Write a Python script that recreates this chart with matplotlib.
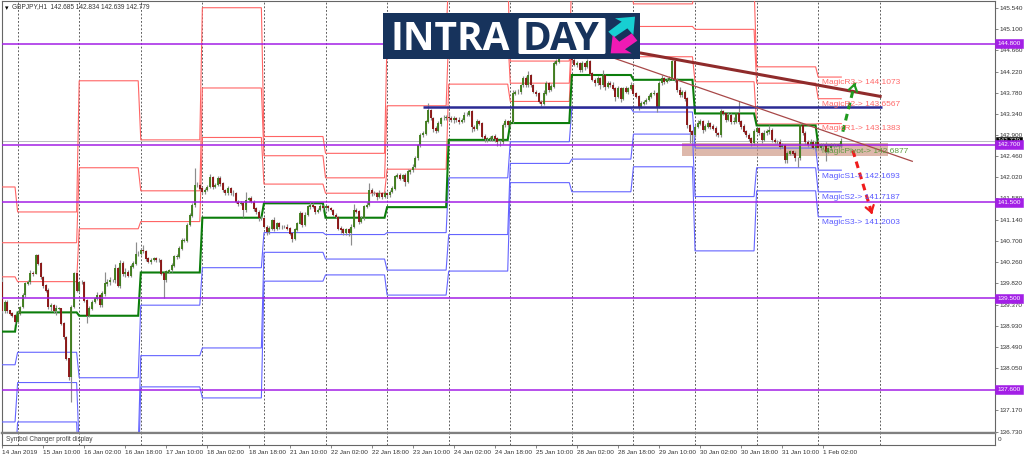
# -*- coding: utf-8 -*-
"""GBPJPY H1 chart with magic pivot levels, rebuilt with matplotlib."""

import numpy as np
import matplotlib
matplotlib.use('Agg')
import matplotlib.pyplot as plt
from matplotlib.patches import Rectangle, Polygon, FancyBboxPatch

plt.rcParams['font.family'] = ['Liberation Sans', 'DejaVu Sans']

# ============ Data ============
first_open = 139.84
closes = [
    139.25, 139.43, 139.25, 139.19, 139.15, 139.01, 139.19, 139.32, 139.57, 139.81,
    139.84, 140.03, 140.02, 140.40, 140.23, 139.95, 139.77, 139.67, 139.32, 139.36,
    139.25, 139.29, 139.29, 138.98, 138.70, 138.25, 137.87, 139.32, 140.02, 139.67,
    139.84, 139.84, 139.46, 139.15, 139.29, 139.43, 139.50, 139.57, 139.36, 139.60,
    139.81, 139.84, 139.88, 139.88, 140.12, 139.77, 140.23, 140.02, 140.05, 139.98,
    140.16, 140.23, 140.43, 140.43, 140.50, 140.49, 140.33, 140.26, 140.30, 140.33,
    140.30, 140.30, 140.02, 139.88, 140.06, 140.09, 140.19, 140.37, 140.37, 140.54,
    140.71, 140.71, 141.03, 141.23, 141.44, 141.86, 141.86, 141.79, 141.72, 141.76,
    141.82, 142.02, 141.82, 141.86, 142.00, 141.89, 141.76, 141.69, 141.79, 141.69,
    141.69, 141.51, 141.48, 141.48, 141.34, 141.55, 141.58, 141.51, 141.37, 141.30,
    141.17, 141.17, 140.99, 140.89, 140.96, 141.13, 140.96, 141.06, 140.99, 140.99,
    140.99, 140.96, 140.85, 140.75, 140.93, 141.06, 141.27, 141.03, 141.24, 141.41,
    141.45, 141.41, 141.31, 141.34, 141.41, 141.38, 141.41, 141.38, 141.34, 141.24,
    141.20, 140.96, 140.93, 140.86, 140.93, 140.86, 140.99, 141.34, 141.31, 141.10,
    141.17, 141.41, 141.45, 141.76, 141.69, 141.69, 141.62, 141.69, 141.62, 141.69,
    141.65, 141.72, 141.79, 142.04, 142.07, 142.00, 142.07, 141.93, 142.14, 142.17,
    142.24, 142.42, 142.69, 142.90, 142.93, 143.18, 143.42, 143.25, 143.04, 143.00,
    143.14, 143.25, 143.25, 143.28, 143.25, 143.21, 143.25, 143.21, 143.18, 143.21,
    143.32, 143.32, 143.39, 143.07, 143.04, 143.18, 143.14, 142.87, 142.83, 142.83,
    142.83, 142.87, 142.83, 142.76, 142.76, 143.11, 143.18, 143.11, 143.18, 143.77,
    143.80, 143.80, 143.94, 144.08, 143.94, 144.15, 143.94, 143.80, 143.77, 143.59,
    143.56, 143.77, 143.98, 143.84, 143.91, 144.39, 144.43, 144.60, 144.67, 144.70,
    144.60, 144.60, 144.46, 144.36, 144.39, 144.25, 144.39, 144.32, 144.43, 144.18,
    144.05, 143.98, 144.08, 143.94, 144.15, 143.91, 143.98, 143.94, 143.87, 143.70,
    143.87, 143.66, 143.87, 143.80, 143.87, 143.94, 143.77, 143.70, 143.49, 143.56,
    143.59, 143.63, 143.70, 143.77, 143.77, 143.49, 143.98, 144.08, 144.01, 144.05,
    144.08, 144.43, 144.05, 143.84, 143.73, 143.80, 143.66, 143.11, 142.97, 142.90,
    143.07, 143.14, 143.18, 143.01, 143.08, 143.15, 143.08, 143.04, 142.94, 142.90,
    143.39, 143.35, 143.22, 143.32, 143.18, 143.18, 143.35, 143.18, 143.08, 142.97,
    142.90, 142.83, 142.73, 142.97, 143.04, 142.94, 142.80, 142.94, 142.97, 143.01,
    142.80, 142.76, 142.76, 142.66, 142.69, 142.38, 142.52, 142.56, 142.52, 142.42,
    142.42, 143.11, 142.94, 142.76, 142.69, 142.76, 142.63, 142.76, 142.63, 142.69,
    142.69, 142.56, 142.63, 142.69, 142.69, 142.69, 142.68, 142.78,
]
# wick lengths above / below the body, in hundredths of a yen
upper_wicks = [
    6, 3, 4, 2, 3, 2, 4, 3, 5, 3, 5, 6, 4, 3, 2, 3, 2, 3, 5, 4,
    3, 8, 4, 2, 3, 2, 2, 4, 3, 2, 3, 4, 2, 3, 5, 3, 4, 6, 3, 5,
    24, 7, 6, 3, 10, 4, 7, 5, 8, 4, 6, 5, 25, 5, 6, 11, 2, 3, 4, 3,
    3, 4, 2, 3, 4, 3, 5, 4, 5, 6, 4, 5, 3, 4, 5, 35, 6, 3, 3, 4,
    4, 6, 3, 4, 5, 4, 3, 2, 5, 3, 6, 3, 4, 5, 3, 17, 4, 6, 3, 3,
    5, 4, 3, 3, 4, 3, 6, 3, 4, 3, 3, 6, 2, 3, 4, 3, 6, 3, 5, 4,
    7, 3, 2, 4, 5, 3, 3, 4, 2, 3, 3, 2, 4, 3, 4, 3, 5, 12, 4, 3,
    5, 4, 6, 14, 3, 4, 2, 6, 3, 5, 3, 4, 5, 3, 4, 5, 3, 4, 6, 3,
    6, 5, 3, 4, 6, 4, 14, 3, 3, 4, 5, 3, 6, 3, 10, 4, 5, 3, 6, 4,
    7, 5, 4, 3, 4, 5, 3, 3, 6, 4, 6, 4, 5, 3, 3, 5, 6, 4, 3, 6,
    4, 5, 3, 5, 4, 8, 3, 3, 4, 3, 3, 6, 5, 3, 5, 5, 6, 3, 4, 3,
    3, 3, 5, 4, 5, 3, 5, 4, 6, 3, 4, 3, 5, 3, 10, 3, 5, 4, 6, 3,
    5, 3, 4, 5, 3, 6, 4, 3, 3, 4, 3, 4, 5, 3, 6, 3, 4, 6, 3, 4,
    5, 3, 4, 3, 5, 4, 3, 4, 3, 3, 6, 8, 5, 3, 4, 6, 3, 5, 4, 3,
    5, 3, 4, 6, 3, 10, 4, 25, 3, 4, 3, 4, 3, 5, 4, 3, 3, 7, 5, 10,
    3, 4, 3, 5, 4, 3, 4, 3, 3, 4, 3, 5, 3, 4, 3, 6, 3, 5, 4, 5,
    4, 7, 3, 5, 4, 3, 5, 5,
]
lower_wicks = [
    5, 5, 6, 3, 4, 4, 3, 3, 2, 3, 4, 3, 5, 2, 3, 4, 5, 3, 4, 8,
    5, 10, 3, 3, 4, 3, 6, 52, 2, 3, 3, 3, 4, 17, 3, 2, 3, 4, 3, 4,
    4, 6, 5, 3, 5, 4, 5, 6, 8, 3, 4, 3, 3, 5, 3, 4, 5, 3, 4, 3,
    5, 4, 3, 38, 3, 4, 3, 3, 5, 3, 3, 4, 3, 3, 3, 4, 5, 3, 5, 4,
    3, 3, 4, 3, 3, 4, 5, 3, 3, 4, 5, 3, 6, 3, 14, 4, 5, 3, 5, 4,
    6, 3, 3, 7, 4, 3, 5, 3, 4, 5, 3, 4, 3, 7, 3, 3, 2, 4, 3, 3,
    4, 3, 5, 4, 3, 3, 4, 5, 3, 3, 2, 3, 6, 4, 3, 5, 25, 3, 3, 5,
    4, 3, 3, 3, 6, 3, 8, 4, 5, 3, 4, 3, 3, 3, 4, 3, 5, 10, 3, 6,
    3, 3, 3, 3, 5, 3, 2, 4, 7, 6, 3, 5, 3, 4, 6, 3, 5, 4, 6, 3,
    4, 3, 3, 10, 6, 3, 4, 3, 7, 8, 6, 5, 8, 9, 8, 4, 5, 4, 3, 3,
    3, 5, 4, 3, 5, 3, 4, 3, 5, 3, 5, 3, 3, 5, 3, 3, 4, 3, 3, 3,
    3, 4, 5, 3, 5, 4, 3, 6, 3, 4, 3, 6, 3, 8, 3, 7, 4, 5, 3, 10,
    3, 8, 4, 3, 5, 3, 4, 3, 6, 3, 4, 5, 3, 3, 4, 10, 3, 3, 4, 3,
    3, 3, 4, 5, 3, 4, 5, 6, 24, 15, 4, 3, 3, 6, 3, 4, 5, 3, 6, 4,
    3, 4, 5, 3, 6, 4, 3, 4, 5, 3, 4, 6, 5, 3, 3, 4, 6, 3, 3, 4,
    5, 3, 4, 6, 3, 7, 6, 3, 4, 5, 18, 3, 4, 5, 3, 6, 3, 6, 4, 5,
    6, 21, 3, 4, 5, 3, 4, 5,
]

# daily magic levels (one value per session), values above 145.7 / below 136.7 fall off the chart
bars_per_day = [6] + [24] * 13 + [10]
r3 = [141.82, 141.30, 144.03, 142.80, 145.55, 142.87, 142.52, 144.98, 146.20, 144.44, 146.30, 145.63, 146.00, 144.32, 144.1073]
r2 = [140.66, 140.66, 142.22, 141.74, 143.88, 142.47, 142.01, 143.51, 144.98, 143.98, 145.09, 145.16, 145.10, 143.98, 143.6567]
r1 = [139.95, 139.85, 140.95, 141.10, 142.85, 141.88, 141.69, 142.19, 143.96, 143.60, 144.78, 144.53, 144.01, 143.13, 143.1383]
pivot = [138.81, 139.21, 139.14, 140.04, 141.18, 141.48, 141.18, 141.40, 142.80, 143.15, 144.15, 144.05, 143.35, 143.10, 142.6877]
s1 = [138.12, 138.38, 137.85, 139.36, 140.14, 140.87, 140.83, 140.87, 142.01, 142.76, 143.46, 143.38, 142.63, 142.63, 142.1693]
s2 = [136.93, 137.75, 136.40, 138.31, 138.47, 140.46, 140.32, 140.09, 140.83, 142.31, 142.40, 142.92, 141.62, 142.22, 141.7187]
s3 = [136.00, 136.93, 135.70, 137.66, 137.43, 139.86, 139.99, 139.57, 140.07, 141.91, 141.72, 142.24, 140.49, 141.74, 141.2003]

h_levels = [144.8, 142.7, 141.5, 139.5, 137.6]
bid_price = 142.779

channel_bars = [163.8, 342.8]
channel_prices = [143.48, 143.48]
thick_trend_bars = [248.5, 342.7]
thick_trend_prices = [144.61, 143.70]
thin_trend_bars = [233.0, 354.9]
thin_trend_prices = [144.60, 142.35]
zone_bars = [264.8, 345.2]
zone_prices = [142.47, 142.74]
up_arrow_bars = [327.6, 332.3]
up_arrow_prices = [142.97, 143.99]
down_arrow_bars = [331.5, 339.3]
down_arrow_prices = [142.58, 141.20]

price_ticks = [145.54, 145.10, 144.66, 144.22, 143.78, 143.34, 142.90, 142.46, 142.02,
               141.58, 141.14, 140.70, 140.26, 139.82, 139.37, 138.93, 138.49, 138.05,
               137.61, 137.17, 136.73]
price_labels = ['145.540', '145.100', '144.660', '144.220', '143.780', '143.340', '142.900',
                '142.460', '142.020', '141.580', '141.140', '140.700', '140.260', '139.820',
                '139.370', '138.930', '138.490', '138.050', '', '137.170', '136.730']
time_labels = ['14 Jan 2019', '15 Jan 10:00', '16 Jan 02:00', '16 Jan 18:00', '17 Jan 10:00',
               '18 Jan 02:00', '18 Jan 18:00', '21 Jan 10:00', '22 Jan 02:00', '22 Jan 18:00',
               '23 Jan 10:00', '24 Jan 02:00', '24 Jan 18:00', '25 Jan 10:00', '28 Jan 02:00',
               '28 Jan 18:00', '29 Jan 10:00', '30 Jan 02:00', '30 Jan 18:00', '31 Jan 10:00',
               '1 Feb 02:00']
time_tick_bars = list(range(0, 321, 16))
grid_bars = list(range(6, 343, 24))

level_labels = [
    ('MagicR3-> 144.1073', 143.99, '#ff6a6a'),
    ('MagicR2-> 143.6567', 143.54, '#ff6a6a'),
    ('MagicR1-> 143.1383', 143.04, '#ff6a6a'),
    ('MagicPivot-> 142.6877', 142.56, '#5f9a40'),
    ('MagicS1-> 142.1693', 142.04, '#5a5aff'),
    ('MagicS2-> 141.7187', 141.60, '#5a5aff'),
    ('MagicS3-> 141.2003', 141.09, '#5a5aff'),
]

# ============ Figure / axes ============
W, H = 1024, 459
PURPLE = '#a31fe6'
fig = plt.figure(figsize=(W / 100, H / 100), dpi=100, facecolor='white')

left, right = 1.7 / W, 995.0 / W
ax = fig.add_axes([left, 1 - 433.0 / H, right - left, 432.0 / H])
sub = fig.add_axes([left, 1 - 445.0 / H, right - left, 12.0 / H])

xlim = (-0.2, 386.9)
ax.set_xlim(*xlim)
ax.set_ylim(136.70, 145.69)
sub.set_xlim(*xlim)
sub.set_ylim(0, 1)

for a in (ax, sub):
    for s in a.spines.values():
        s.set_color('#666666')
        s.set_linewidth(0.8)
    a.vlines(grid_bars, 0, 1, transform=a.get_xaxis_transform(),
             colors='#444444', linewidth=0.6, linestyles=(0, (2.2, 2.2)), zorder=1)
ax.spines['bottom'].set_linewidth(1.6)
ax.spines['bottom'].set_color('#808080')
sub.spines['top'].set_linewidth(1.6)
sub.spines['top'].set_color('#808080')

ax.yaxis.tick_right()
ax.set_yticks(price_ticks)
ax.set_yticklabels(price_labels, fontsize=4.6, color='#333333')
ax.tick_params(axis='y', length=2, width=0.5, pad=1.5, color='#555555')
ax.set_xticks([])

sub.set_xticks(time_tick_bars)
sub.set_xticklabels(time_labels, fontsize=4.6, color='#333333', ha='left')
sub.tick_params(axis='x', length=2, width=0.5, pad=1.5, color='#555555')
sub.yaxis.tick_right()
sub.set_yticks([0.5])
sub.set_yticklabels(['0'], fontsize=4.6, color='#333333')
sub.tick_params(axis='y', length=0, pad=2)

# ============ Daily levels ============
bars = np.arange(len(closes))
for series, color, lw in [(r3, '#ff6464', 0.8), (r2, '#ff6464', 0.8), (r1, '#ff6464', 0.8),
                          (s1, '#6464ff', 0.8), (s2, '#6464ff', 0.8), (s3, '#6464ff', 0.8),
                          (pivot, '#0b7d0b', 1.5)]:
    ax.plot(bars, np.repeat(series, bars_per_day), color=color, lw=lw, zorder=3,
            solid_joinstyle='miter')

# ============ Zone, horizontals, trend lines ============
ax.add_patch(Rectangle((zone_bars[0], zone_prices[0]), zone_bars[1] - zone_bars[0],
                       zone_prices[1] - zone_prices[0], facecolor='#cf9a88', alpha=0.7,
                       edgecolor='none', zorder=2))
for lvl in h_levels:
    ax.axhline(lvl, color=PURPLE, lw=1.1, zorder=5)
ax.axhline(bid_price, color='#b9b9c4', lw=0.7, zorder=2)

ax.plot(channel_bars, channel_prices, color='#2b2b94', lw=1.8, zorder=6, solid_capstyle='butt')
ax.plot(thick_trend_bars, thick_trend_prices, color='#8f2b2b', lw=2.2, zorder=6, solid_capstyle='butt')
ax.plot(thin_trend_bars, thin_trend_prices, color='#a84848', lw=0.9, zorder=6, solid_capstyle='butt')

# ============ Candles ============
closes_arr = np.array(closes)
opens_arr = np.concatenate(([first_open], closes_arr[:-1]))
tops = np.maximum(opens_arr, closes_arr)
bottoms = np.minimum(opens_arr, closes_arr)
highs = tops + np.array(upper_wicks) / 100.0
lows = bottoms - np.array(lower_wicks) / 100.0
up = closes_arr >= opens_arr

ax.vlines(bars, lows, highs, colors='#8c8c8c', linewidth=0.85, zorder=4)
ax.vlines(bars[up], bottoms[up] - 0.005, tops[up] + 0.005, colors='#3f7d1c', linewidth=1.35, zorder=4.5)
ax.vlines(bars[~up], bottoms[~up] - 0.005, tops[~up] + 0.005, colors='#8a1212', linewidth=1.35, zorder=4.5)

# ============ Forecast arrows ============
for xs, ys, color in [(up_arrow_bars, up_arrow_prices, '#1f9a1f'),
                      (down_arrow_bars, down_arrow_prices, '#f01c1c')]:
    ax.plot(xs, ys, color=color, lw=2.2, linestyle=(0, (2.2, 1.6)), zorder=7)
    ax.annotate('', xy=(xs[1], ys[1]),
                xytext=(xs[0] + 0.9 * (xs[1] - xs[0]), ys[0] + 0.9 * (ys[1] - ys[0])),
                arrowprops=dict(arrowstyle='->,head_length=0.45,head_width=0.3', color=color, lw=1.6),
                zorder=7)

for label, y, color in level_labels:
    ax.text(319.6, y, label, color=color, fontsize=6.05, va='center', ha='left', zorder=8)

# ============ Right-hand flags ============
ax_flag = ax.get_yaxis_transform()
ax.text(1.0025, bid_price, '142.779', transform=ax_flag, fontsize=4.6, color='white', va='center',
        ha='left', clip_on=False, zorder=9,
        bbox=dict(boxstyle='square,pad=0.2', facecolor='black', edgecolor='black', lw=0.4))
for lvl in h_levels:
    ax.text(1.0025, lvl, '%.3f' % lvl, transform=ax_flag, fontsize=4.6, color='white', va='center',
            ha='left', clip_on=False, zorder=10,
            bbox=dict(boxstyle='square,pad=0.32', facecolor=PURPLE, edgecolor=PURPLE, lw=0.4))

# ============ Captions ============
ax.text(1.0, 145.55, '\u25be', fontsize=5, color='black', va='center', family=['DejaVu Sans'])
fig.text(12 / W, 1 - 6.5 / H, 'GBPJPY,H1  142.685 142.834 142.639 142.779', fontsize=4.7,
         color='#333333', va='center')
sub.text(1.3, 0.47, 'Symbol Changer profit display', fontsize=4.7, color='#444444', va='center')

# ============ Logo, in pixel coordinates ============
ov = fig.add_axes([0, 0, 1, 1])
ov.set_xlim(0, W)
ov.set_ylim(H, 0)
ov.axis('off')
ov.patch.set_alpha(0)

NAVY = '#17335c'
ov.add_patch(Rectangle((383.3, 12.7), 256.7, 46.3, facecolor=NAVY, edgecolor='none'))
ov.add_patch(FancyBboxPatch((518.5, 18), 87, 36, boxstyle='round,pad=0,rounding_size=1.5',
                            facecolor='white', edgecolor='none'))
ov.text(390, 50, 'INTRA', fontsize=28, fontweight='bold', color='white', va='baseline', ha='left',
        family=['Open Sans', 'DejaVu Sans'])
ov.text(523, 50, 'DAY', fontsize=28, fontweight='bold', color=NAVY, va='baseline', ha='left',
        family=['Open Sans', 'DejaVu Sans'])

cyan_arrow = [(805, 95), (845, 65), (825, 55), (885, 50), (880, 105), (862, 85), (822, 112)]
pink_arrow = [(812, 160), (818, 105), (838, 125), (875, 100), (892, 122), (855, 148), (875, 160)]
ov.add_patch(Polygon([(340 + x / 3, y / 3) for x, y in cyan_arrow], closed=True, facecolor='#17cfd2', edgecolor='none'))
ov.add_patch(Polygon([(340 + x / 3, y / 3) for x, y in pink_arrow], closed=True, facecolor='#f01ab4', edgecolor='none'))

fig.savefig('out.png', dpi=100, facecolor='white')
